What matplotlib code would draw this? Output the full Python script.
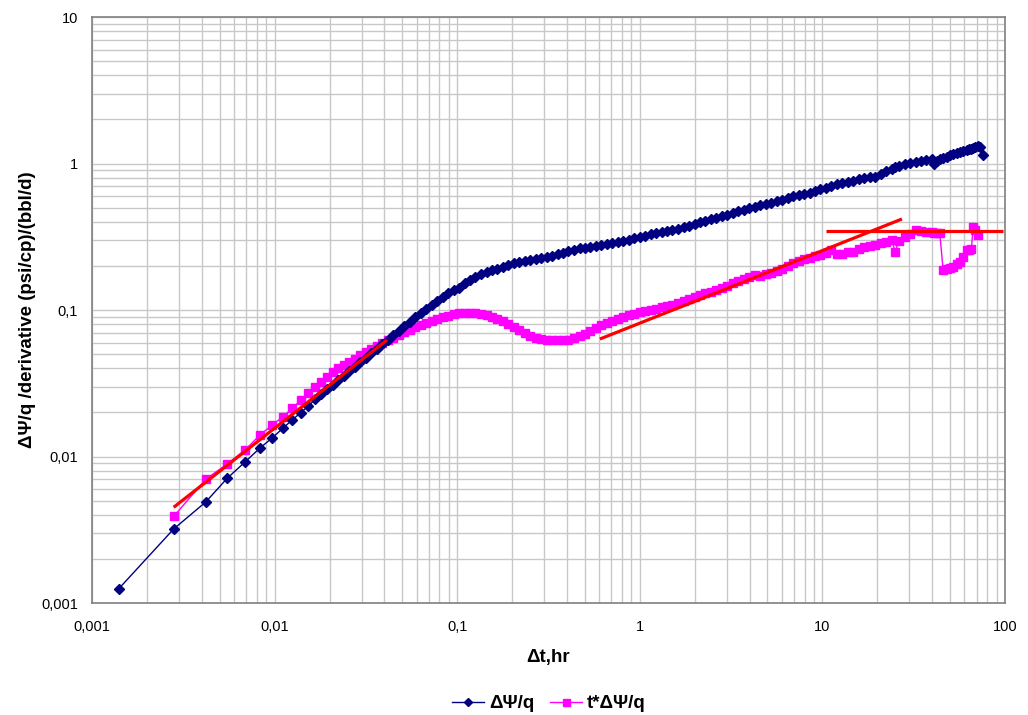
import numpy as np
import matplotlib
matplotlib.use("Agg")
import matplotlib.pyplot as plt
from matplotlib.ticker import LogLocator, FixedLocator, FixedFormatter, NullFormatter

plt.rcParams['font.family'] = ['Liberation Sans', 'DejaVu Sans']

# elapsed time, hr
t = [0.0014, 0.0028, 0.0042, 0.0055, 0.0069, 0.0083, 0.0097, 0.0111, 0.0125, 0.0139,
     0.0153, 0.0167, 0.018, 0.0194, 0.0208, 0.0223, 0.0239, 0.0256, 0.0275, 0.0295,
     0.0316, 0.0339, 0.0363, 0.0389, 0.0417, 0.0447, 0.0479, 0.0513, 0.055, 0.0589,
     0.0631, 0.0676, 0.0724, 0.0776, 0.0832, 0.0891, 0.0955, 0.102, 0.11, 0.117,
     0.126, 0.135, 0.145, 0.155, 0.166, 0.178, 0.191, 0.204, 0.219, 0.234,
     0.251, 0.269, 0.288, 0.309, 0.331, 0.355, 0.38, 0.407, 0.437, 0.468,
     0.501, 0.537, 0.575, 0.617, 0.661, 0.708, 0.759, 0.813, 0.871, 0.933,
     1.0, 1.07, 1.15, 1.23, 1.32, 1.41, 1.51, 1.62, 1.74, 1.86,
     2.0, 2.14, 2.29, 2.45, 2.63, 2.82, 3.02, 3.24, 3.47, 3.72,
     3.98, 4.27, 4.57, 4.9, 5.25, 5.62, 6.03, 6.46, 6.92, 7.41,
     7.94, 8.51, 9.12, 9.77, 10.5, 11.2, 12.0, 12.9, 13.8, 14.8,
     15.8, 17.0, 18.2, 19.5, 20.9, 22.4, 24.0, 25.1, 26.3, 28.2,
     30.2, 32.4, 34.7, 37.2, 39.8, 41.0, 42.7, 44.0, 45.9, 48.0,
     50.0, 52.1, 54.5, 56.7, 59.0, 61.7, 64.0, 65.5, 67.1, 69.0,
     71.4, 73.5, 76.1]

# delta pseudo-pressure / rate
dpsi = [0.00125, 0.0032, 0.0049, 0.0071, 0.0092, 0.0114, 0.0134, 0.0156, 0.0178, 0.0199,
        0.0221, 0.0246, 0.0267, 0.0289, 0.0308, 0.0331, 0.0355, 0.0381, 0.041, 0.0441,
        0.0473, 0.0508, 0.0545, 0.0585, 0.0628, 0.0674, 0.0723, 0.0776, 0.0832, 0.0893,
        0.0955, 0.102, 0.109, 0.116, 0.123, 0.13, 0.137, 0.142, 0.152, 0.16,
        0.168, 0.175, 0.182, 0.187, 0.192, 0.197, 0.203, 0.208, 0.212, 0.216,
        0.22, 0.224, 0.228, 0.231, 0.235, 0.24, 0.245, 0.251, 0.257, 0.263,
        0.267, 0.271, 0.275, 0.279, 0.283, 0.287, 0.291, 0.295, 0.301, 0.308,
        0.316, 0.322, 0.328, 0.333, 0.339, 0.346, 0.353, 0.36, 0.368, 0.376,
        0.386, 0.396, 0.406, 0.416, 0.426, 0.437, 0.448, 0.46, 0.472, 0.484,
        0.495, 0.507, 0.518, 0.528, 0.54, 0.553, 0.567, 0.582, 0.597, 0.61,
        0.622, 0.634, 0.648, 0.665, 0.683, 0.702, 0.722, 0.738, 0.752, 0.765,
        0.78, 0.796, 0.81, 0.808, 0.85, 0.885, 0.92, 0.94, 0.955, 0.985,
        1.01, 1.03, 1.045, 1.06, 1.075, 0.995, 1.04, 1.07, 1.095, 1.115,
        1.135, 1.155, 1.175, 1.195, 1.215, 1.235, 1.25, 1.26, 1.275, 1.29,
        1.31, 1.3, 1.14]

# derivative t*d(dpsi)/dt
deriv = [np.nan, 0.0039, 0.007, 0.0089, 0.0111, 0.014, 0.0164, 0.0187, 0.0213, 0.0243,
         0.027, 0.0297, 0.0324, 0.0351, 0.0379, 0.04, 0.0421, 0.0443, 0.0466, 0.049,
         0.0514, 0.054, 0.0566, 0.0593, 0.062, 0.0648, 0.0676, 0.0705, 0.0733, 0.076,
         0.0785, 0.0812, 0.084, 0.0868, 0.0893, 0.0915, 0.0935, 0.0948, 0.0955, 0.0958,
         0.0955, 0.0945, 0.0925, 0.09, 0.087, 0.0835, 0.08, 0.0762, 0.0725, 0.0692,
         0.0665, 0.0645, 0.0632, 0.0625, 0.0621, 0.062, 0.0622, 0.0628, 0.064, 0.066,
         0.069, 0.072, 0.075, 0.0785, 0.0815, 0.0845, 0.087, 0.0895, 0.092, 0.0945,
         0.097, 0.099, 0.1, 0.102, 0.105, 0.106, 0.1085, 0.111, 0.115, 0.119,
         0.123, 0.127, 0.13, 0.133, 0.137, 0.142, 0.147, 0.152, 0.157, 0.162,
         0.167, 0.174, 0.17, 0.176, 0.18, 0.186, 0.192, 0.2, 0.208, 0.215,
         0.222, 0.228, 0.232, 0.238, 0.246, 0.255, 0.24, 0.242, 0.248, 0.25,
         0.26, 0.268, 0.275, 0.28, 0.285, 0.292, 0.3, 0.25, 0.298, 0.316,
         0.33, 0.35, 0.345, 0.343, 0.34, 0.338, 0.335, 0.334, 0.1875, 0.19,
         0.195, 0.1975, 0.205, 0.214, 0.23, 0.257, 0.258, 0.26, 0.37, 0.35,
         0.325, np.nan, np.nan]

# straight-line fits (end points)
fit1_x, fit1_y = [0.0028, 0.0413], [0.0045, 0.0624]
fit2_x, fit2_y = [0.605, 27.3], [0.0634, 0.418]
fit3_x, fit3_y = [10.5, 97.5], [0.346, 0.346]

fig = plt.figure(figsize=(10.28, 7.15), dpi=100)
ax = fig.add_axes([0.0895, 0.1566, 0.888, 0.8196])

ax.plot(t, dpsi, color='#000080', lw=1, marker='D', ms=5, mec='#000080', label='ΔΨ/q', zorder=3)
ax.plot(t, deriv, color='#FF00FF', lw=1, marker='s', ms=6.3, mec='#FF00FF', label='t*ΔΨ/q', zorder=2)

for fx, fy in [(fit1_x, fit1_y), (fit2_x, fit2_y), (fit3_x, fit3_y)]:
    ax.plot(fx, fy, color='#FF0000', lw=2.3, solid_capstyle='butt', zorder=4)

ax.set_xscale('log')
ax.set_yscale('log')
ax.set_xlim(0.001, 100)
ax.set_ylim(0.001, 10)

xt = [0.001, 0.01, 0.1, 1, 10, 100]
yt = [0.001, 0.01, 0.1, 1, 10]
ax.xaxis.set_major_locator(FixedLocator(xt))
ax.xaxis.set_major_formatter(FixedFormatter(['0,001', '0,01', '0,1', '1', '10', '100']))
ax.yaxis.set_major_locator(FixedLocator(yt))
ax.yaxis.set_major_formatter(FixedFormatter(['0,001', '0,01', '0,1', '1', '10']))
for a in (ax.xaxis, ax.yaxis):
    a.set_minor_locator(LogLocator(base=10, subs=np.arange(2, 10), numticks=20))
    a.set_minor_formatter(NullFormatter())

ax.grid(True, which='both', color='#C8C8C8', lw=1)
ax.set_axisbelow(True)
ax.tick_params(which='both', length=0, labelsize=10.5, colors='black')
ax.tick_params(axis='x', pad=12)
ax.tick_params(axis='y', pad=10)
for s in ax.spines.values():
    s.set_color('#808080')
    s.set_linewidth(1.2)

ax.set_xlabel('Δt,hr', fontsize=13.5, fontweight='bold', labelpad=11)
ax.set_ylabel('ΔΨ/q /derivative (psi/cp)/(bbl/d)', fontsize=13.5, fontweight='bold', labelpad=4)

fig.legend(loc='center', bbox_to_anchor=(0.534, 0.016), ncol=2, frameon=False,
           prop={'weight': 'bold', 'size': 13.5}, handlelength=1.7, handletextpad=0.3,
           columnspacing=0.8, markerscale=0.8)

fig.savefig('out.png', dpi=100)
